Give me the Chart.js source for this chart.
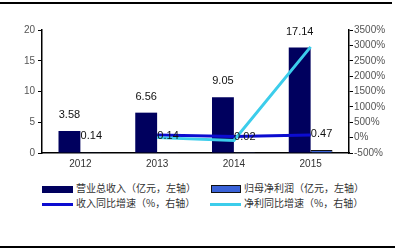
<!DOCTYPE html>
<html>
<head>
<meta charset="utf-8">
<script src="https://cdn.jsdelivr.net/npm/chart.js@4"></script>
<style>
    html, body { margin: 0; padding: 0; background: #fff; }
    #wrap { position: relative; width: 403px; height: 250px; overflow: hidden; }
    #c { position: absolute; left: 0; top: 0; }
    .rule { position: absolute; left: 0; height: 2px; background: #000; }
    .lg { position: absolute; font: 10px "Noto Sans CJK SC", sans-serif; color: #333; white-space: nowrap; }
    .lg i { display: inline-block; vertical-align: middle; margin-right: 3px; }
</style>
</head>
<body>
<div id="wrap">
    <div class="rule" style="top:2px;width:392px"></div>
    <canvas id="c" width="403" height="175"></canvas>
    <div class="lg" style="left:42px;top:180px"><i style="width:31px;height:7px;background:#00005e"></i>营业总收入（亿元，左轴）</div>
    <div class="lg" style="left:211px;top:180px"><i style="width:28px;height:6px;background:#3a62d8;border:1px solid #111"></i>归母净利润（亿元，左轴）</div>
    <div class="lg" style="left:42px;top:195px"><i style="width:31px;height:3px;background:#0c0cd0"></i>收入同比增速（%，右轴）</div>
    <div class="lg" style="left:210px;top:195px"><i style="width:31px;height:3px;background:#3ccdeb"></i>净利同比增速（%，右轴）</div>
    <div class="rule" style="top:246px;width:395px"></div>
</div>
<script>
(function () {
    'use strict';

    // ── 資料 ─────────────────────────────────────────────
    var years        = ['2012', '2013', '2014', '2015'];
    var revenue      = [3.58, 6.56, 9.05, 17.14];        // 营业总收入（亿元）
    var netProfit    = [0.14, 0.14, 0.02, 0.47];         // 归母净利润（亿元）
    var revGrowth    = [null, 83, 38, 89];               // 收入同比增速（%）
    var profitGrowth = [null, 0, -90, 2950];             // 净利同比增速（%）

    var TICK_FONT = { family: '"Liberation Sans", Arial, sans-serif', size: 10 };

    // 柱頂數值標籤
    var barLabels = {
        id: 'barLabels',
        afterDatasetsDraw: function (chart) {
            var ctx = chart.ctx;
            ctx.save();
            ctx.font = '11px "Liberation Sans", Arial, sans-serif';
            ctx.fillStyle = '#111';
            ctx.textAlign = 'center';
            ctx.textBaseline = 'middle';
            [0, 1].forEach(function (di) {
                var meta = chart.getDatasetMeta(di);
                meta.data.forEach(function (bar, i) {
                    var v = chart.data.datasets[di].data[i];
                    ctx.fillText(v.toFixed(2), bar.x, bar.y - 16);
                });
            });
            ctx.restore();
        }
    };

    new Chart(document.getElementById('c').getContext('2d'), {
        type: 'bar',
        data: {
            labels: years,
            datasets: [{
                label: '营业总收入（亿元，左轴）',
                data: revenue,
                backgroundColor: '#00005e',
                yAxisID: 'y',
                order: 2
            }, {
                label: '归母净利润（亿元，左轴）',
                data: netProfit,
                backgroundColor: '#3a62d8',
                borderColor: '#111',
                borderWidth: 1,
                yAxisID: 'y',
                order: 2
            }, {
                type: 'line',
                label: '收入同比增速（%，右轴）',
                data: revGrowth,
                borderColor: '#0c0cd0',
                borderWidth: 3,
                pointRadius: 0,
                yAxisID: 'y1',
                order: 1
            }, {
                type: 'line',
                label: '净利同比增速（%，右轴）',
                data: profitGrowth,
                borderColor: '#3ccdeb',
                borderWidth: 3,
                pointRadius: 0,
                yAxisID: 'y1',
                order: 0
            }]
        },
        options: {
            responsive: false,
            animation: false,
            layout: { padding: { top: 30, bottom: 2, left: 0, right: 0 } },
            datasets: { bar: { categoryPercentage: 0.57, barPercentage: 1 } },
            plugins: { legend: { display: false }, tooltip: { enabled: false } },
            scales: {
                x: {
                    grid: { display: false, drawTicks: false },
                    border: { color: '#000', width: 1.5 },
                    ticks: { font: TICK_FONT, color: '#333', padding: 5 },
                    afterFit: function (s) { s.height = 20; }
                },
                y: {
                    position: 'left',
                    min: 0, max: 20,
                    ticks: { stepSize: 5, font: TICK_FONT, color: '#555', padding: 3 },
                    grid: { display: true, drawOnChartArea: false, tickLength: 4, color: '#000' },
                    border: { color: '#000', width: 1.5 },
                    afterFit: function (s) { s.width = 42; }
                },
                y1: {
                    position: 'right',
                    min: -500, max: 3500,
                    ticks: {
                        stepSize: 500, font: TICK_FONT, color: '#555', padding: 1,
                        callback: function (v) { return v + '%'; }
                    },
                    grid: { display: true, drawOnChartArea: false, tickLength: 4, color: '#000' },
                    border: { color: '#000', width: 1.5 },
                    afterFit: function (s) { s.width = 54; }
                }
            }
        },
        plugins: [barLabels]
    });
})();
</script>
</body>
</html>
